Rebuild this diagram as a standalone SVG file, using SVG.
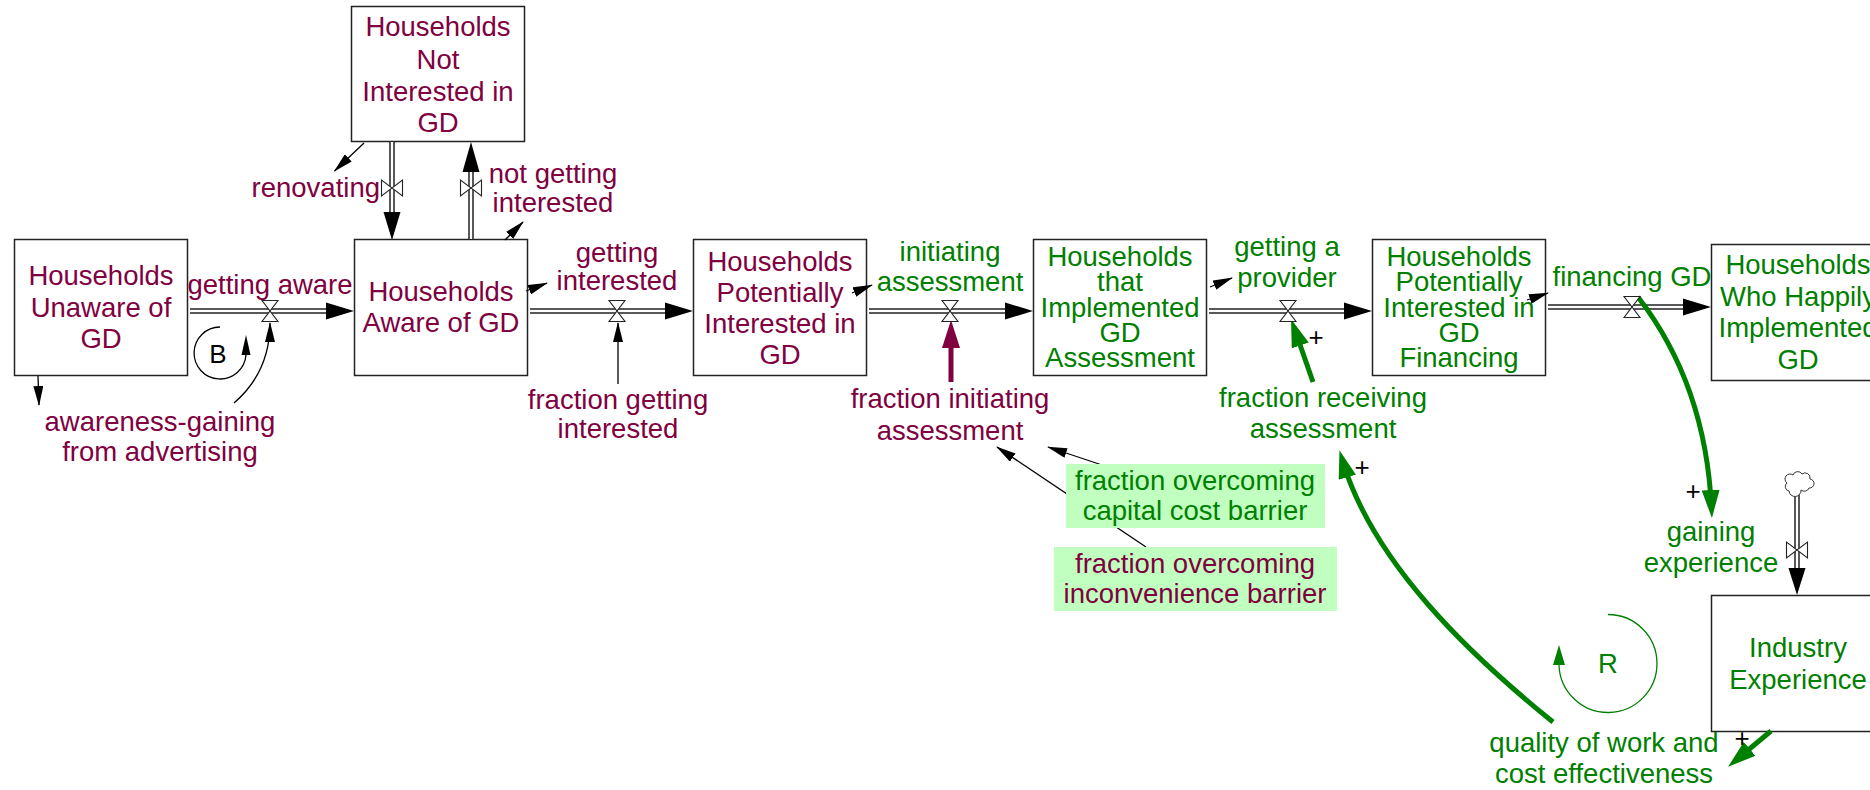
<svg xmlns="http://www.w3.org/2000/svg" width="1870" height="790" viewBox="0 0 1870 790">
<style>
text{font-family:"Liberation Sans",Arial,sans-serif;font-size:27.5px;text-anchor:middle}
.p{fill:#800040}
.g{fill:#008000}
.k{fill:#000}
.pl{font-size:26px;fill:#000}
.stock{fill:#fff;stroke:#222;stroke-width:1.5}
.pipeo{fill:none;stroke:#222;stroke-width:5.5}
.pipei{fill:none;stroke:#fff;stroke-width:2.5}
.valve{fill:#fff;stroke:#222;stroke-width:1.1}
.ph{fill:#000}
.lk{fill:none;stroke:#000;stroke-width:1.3;marker-end:url(#ah)}
.lg{fill:none;stroke:#008000;stroke-width:5;marker-end:url(#ahg)}
.lp{fill:none;stroke:#800040;stroke-width:5;marker-end:url(#ahp)}
.aux{fill:#c0ffc0}
</style>
<defs>
<marker id="ah" markerUnits="userSpaceOnUse" viewBox="0 0 20 10" markerWidth="20" markerHeight="10" refX="19" refY="5" orient="auto"><path d="M0,0L20,5L0,10z" fill="#000"/></marker>
<marker id="ahg" markerUnits="userSpaceOnUse" viewBox="0 0 28 18" markerWidth="28" markerHeight="18" refX="19" refY="9" orient="auto"><path d="M0,0L28,9L0,18z" fill="#008000"/></marker>
<marker id="ahp" markerUnits="userSpaceOnUse" viewBox="0 0 28 18" markerWidth="28" markerHeight="18" refX="19" refY="9" orient="auto"><path d="M0,0L28,9L0,18z" fill="#800040"/></marker>
</defs>
<rect width="1870" height="790" fill="#fff"/>

<!-- stocks -->
<g id="stock-unaware"><rect class="stock" x="14.5" y="239.5" width="173" height="136"/>
<text class="p" x="101" y="285">Households</text><text class="p" x="101" y="317">Unaware of</text><text class="p" x="101" y="348">GD</text></g>
<g id="stock-not-interested"><rect class="stock" x="351.5" y="6.5" width="173" height="135"/>
<text class="p" x="438" y="36">Households</text><text class="p" x="438" y="69">Not</text><text class="p" x="438" y="101">Interested in</text><text class="p" x="438" y="132">GD</text></g>
<g id="stock-aware"><rect class="stock" x="354.5" y="239.5" width="173" height="136"/>
<text class="p" x="441" y="301">Households</text><text class="p" x="441" y="332">Aware of GD</text></g>
<g id="stock-potentially-interested"><rect class="stock" x="693.5" y="239.5" width="173" height="136"/>
<text class="p" x="780" y="271">Households</text><text class="p" x="780" y="302">Potentially</text><text class="p" x="780" y="333">Interested in</text><text class="p" x="780" y="364">GD</text></g>
<g id="stock-implemented-assessment"><rect class="stock" x="1033.5" y="239.5" width="173" height="136"/>
<text class="g" x="1120" y="266">Households</text><text class="g" x="1120" y="291">that</text><text class="g" x="1120" y="317">Implemented</text><text class="g" x="1120" y="342">GD</text><text class="g" x="1120" y="367">Assessment</text></g>
<g id="stock-financing"><rect class="stock" x="1372.5" y="239.5" width="173" height="136"/>
<text class="g" x="1459" y="266">Households</text><text class="g" x="1459" y="291">Potentially</text><text class="g" x="1459" y="317">Interested in</text><text class="g" x="1459" y="342">GD</text><text class="g" x="1459" y="367">Financing</text></g>
<g id="stock-happily"><rect class="stock" x="1711.5" y="244.5" width="174" height="136"/>
<text class="g" x="1798" y="274">Households</text><text class="g" x="1798" y="306">Who Happily</text><text class="g" x="1798" y="337">Implemented</text><text class="g" x="1798" y="369">GD</text></g>
<g id="stock-industry-experience"><rect class="stock" x="1711.5" y="595.5" width="174" height="136"/>
<text class="g" x="1798" y="657">Industry</text><text class="g" x="1798" y="689">Experience</text></g>

<!-- connectors -->
<g id="connectors">
<g id="pipes">
<path class="pipeo" d="M190,311H327M530,311H666M869,311H1006M1209,311H1345M1548,307H1684M392,142V213M471,239V171M1797,492V569"/>
<path class="pipei" d="M190,311H327M530,311H666M869,311H1006M1209,311H1345M1548,307H1684M392,142V213M471,239V171M1797,492V569"/>
<polygon class="ph" points="326,302.5 354,311 326,319.5"/>
<polygon class="ph" points="665,302.5 693,311 665,319.5"/>
<polygon class="ph" points="1005,302.5 1033,311 1005,319.5"/>
<polygon class="ph" points="1344,302.5 1372,311 1344,319.5"/>
<polygon class="ph" points="1683,298.5 1711,307 1683,315.5"/>
<polygon class="ph" points="383.5,212 392,240 400.5,212"/>
<polygon class="ph" points="462.5,172 471,142 479.5,172"/>
<polygon class="ph" points="1788.5,568 1797,595 1805.5,568"/>
</g>
<line class="lk" x1="38" y1="376" x2="39" y2="405"/>
<line class="lk" x1="364" y1="143" x2="334.5" y2="171"/>
<line class="lk" x1="505" y1="240" x2="523" y2="222"/>
<line class="lk" x1="526" y1="291" x2="547" y2="283"/>
<line class="lk" x1="852" y1="293" x2="872" y2="285"/>
<line class="lk" x1="1210" y1="287" x2="1232" y2="278"/>
<line class="lk" x1="1527" y1="300" x2="1548" y2="293"/>
<path class="lk" d="M234,403Q270,372 270,323"/>
<line class="lk" x1="618" y1="384" x2="618" y2="323"/>
<line class="lk" x1="1102" y1="465" x2="1048" y2="447"/>
<line class="lk" x1="1146" y1="547" x2="997" y2="447"/>
<line class="lp" x1="951" y1="382" x2="951" y2="329"/>
<line class="lg" x1="1313" y1="382" x2="1294" y2="327.5"/>
<path class="lg" d="M1638,297Q1706,385 1711.5,509"/>
<path class="lg" d="M1553,722C1470,655 1372,562 1342,459"/>
<line class="lg" x1="1771" y1="731" x2="1735" y2="761"/>
<g id="loop-B"><path d="M220,327A26,26 0 1 0 246,355" fill="none" stroke="#000" stroke-width="1.3"/><polygon points="246,335 241.5,355 250.5,355" fill="#000"/></g>
<g id="loop-R"><path d="M1608,614.5A49,49 0 1 1 1559,665" fill="none" stroke="#008000" stroke-width="1.3"/><polygon points="1559,645 1553,665 1565,665" fill="#008000"/></g>
</g>

<!-- flows (valves + labels) -->
<g id="flow-getting-aware"><path class="valve" d="M262,300.5H278L262,321.5H278Z"/><text class="p" x="270" y="294">getting aware</text></g>
<g id="flow-getting-interested"><path class="valve" d="M609,300.5H625L609,321.5H625Z"/><text class="p" x="617" y="262">getting</text><text class="p" x="617" y="290">interested</text></g>
<g id="flow-initiating-assessment"><path class="valve" d="M942,300.5H958L942,321.5H958Z"/><text class="g" x="950" y="261">initiating</text><text class="g" x="950" y="291">assessment</text></g>
<g id="flow-getting-provider"><path class="valve" d="M1280,300.5H1296L1280,321.5H1296Z"/><text class="g" x="1287" y="256">getting a</text><text class="g" x="1287" y="287">provider</text></g>
<g id="flow-financing"><path class="valve" d="M1624,296.5H1640L1624,317.5H1640Z"/><text class="g" x="1632" y="286">financing GD</text></g>
<g id="flow-renovating"><path class="valve" d="M381.5,180V196L402.5,180V196Z"/><text class="p" x="380" y="197" style="text-anchor:end">renovating</text></g>
<g id="flow-not-getting-interested"><path class="valve" d="M460.5,180V196L481.5,180V196Z"/><text class="p" x="553" y="183">not getting</text><text class="p" x="553" y="212">interested</text></g>
<g id="flow-gaining-experience"><path class="valve" d="M1786.5,542V558L1807.5,542V558Z"/>
<path d="M1789,491a4.5,4.5 0 0 1 -2,-8a5,5 0 0 1 6,-8a5,5 0 0 1 9,-1a5,5 0 0 1 8,5a4.5,4.5 0 0 1 -1,9a5,5 0 0 1 -8,2a5,5 0 0 1 -12,1z" fill="#fff" stroke="#333" stroke-width="1"/>
<text class="g" x="1711" y="541">gaining</text><text class="g" x="1711" y="572">experience</text></g>

<!-- auxiliaries -->
<g id="aux-awareness"><text class="p" x="160" y="431">awareness-gaining</text><text class="p" x="160" y="461">from advertising</text></g>
<g id="aux-fraction-getting-interested"><text class="p" x="618" y="409">fraction getting</text><text class="p" x="618" y="438">interested</text></g>
<g id="aux-fraction-initiating"><text class="p" x="950" y="408">fraction initiating</text><text class="p" x="950" y="440">assessment</text></g>
<g id="aux-fraction-receiving"><text class="g" x="1323" y="407">fraction receiving</text><text class="g" x="1323" y="438">assessment</text></g>
<g id="aux-capital-cost"><rect class="aux" x="1066" y="464" width="259" height="64"/><text class="g" x="1195" y="490">fraction overcoming</text><text class="g" x="1195" y="520">capital cost barrier</text></g>
<g id="aux-inconvenience"><rect class="aux" x="1054" y="547" width="283" height="64"/><text class="p" x="1195" y="573">fraction overcoming</text><text class="p" x="1195" y="603">inconvenience barrier</text></g>
<g id="aux-quality"><text class="g" x="1604" y="752">quality of work and</text><text class="g" x="1604" y="783">cost effectiveness</text></g>
<g id="labels">
<text class="k" x="218" y="363" style="font-size:26px">B</text>
<text class="g" x="1608" y="673">R</text>
<text class="pl" x="1316" y="346">+</text>
<text class="pl" x="1693" y="500">+</text>
<text class="pl" x="1362" y="476">+</text>
<text class="pl" x="1742" y="747">+</text>
</g>
</svg>
